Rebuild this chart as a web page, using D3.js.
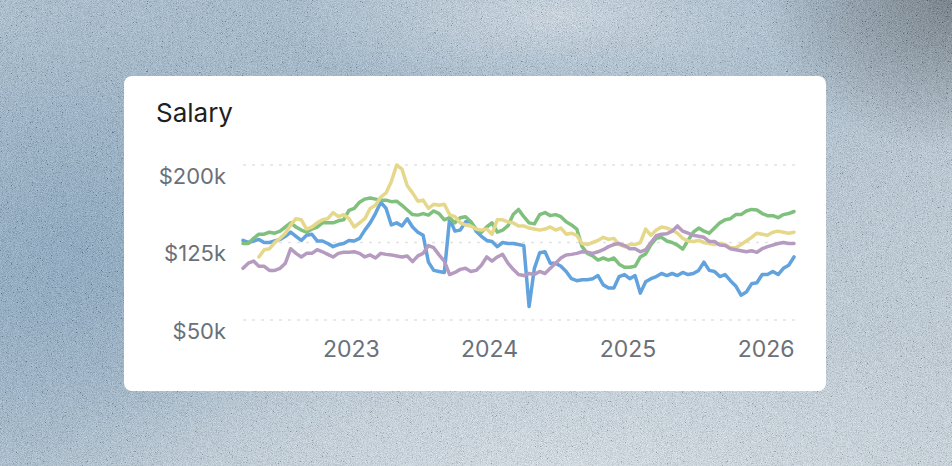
<!DOCTYPE html>
<html>
<head>
<meta charset="utf-8">
<script src="https://cdn.jsdelivr.net/npm/d3@7"></script>
<style>
  html, body { margin: 0; padding: 0; }
  body { width: 952px; height: 466px; overflow: hidden; }
  svg { display: block; }
</style>
</head>
<body>
<div id="vis"></div>
<script>
const FRAME_WIDTH = 952;
const FRAME_HEIGHT = 466;
const CARD = {x: 124, y: 76, w: 702, h: 315};
const PLOT = {left: 243, right: 794, top: 165, bottom: 320};

// data: one value every two weeks, starting late March 2022
const START_DATE = new Date(2022, 2, 22);
const STEP_DAYS = 14;

const BLUE_SERIES = [
  127, 125, 126.5, 128, 125, 125, 126.5, 128, 131, 135, 131, 127, 132, 133, 126.5, 126.5, 124, 121, 123, 124, 127, 126.5, 129, 137, 144, 153, 164,
  158, 142, 144, 141, 148, 140, 135, 132, 106, 98, 97, 96, 148, 136, 137, 145, 145, 136, 131, 127, 126, 121, 125, 124, 124, 123,
  122, 63, 100, 115, 116, 105, 105, 102, 97, 90, 88, 89, 89, 90, 93, 84, 81, 81, 92, 94, 90, 93, 76, 87, 90, 92, 95,
  93, 95, 93, 96, 94, 95, 98, 106, 98, 97, 92, 94, 88, 83, 74, 77, 85, 86, 94, 94, 97, 94, 100, 103, 111
];
const GREEN_SERIES = [
  124, 124, 129, 133, 133, 135, 134, 136, 140, 144, 140, 137, 135, 138, 140, 144, 144, 144, 146, 147, 156, 158, 164, 167, 168, 167, 166,
  166, 164.5, 165, 161, 156.5, 152, 151.5, 153, 151.5, 155.5, 153, 147, 149, 144, 149, 150, 145, 138, 135, 140, 144, 135, 137, 141, 152, 157,
  150, 144, 143, 152, 154, 151, 152, 150, 145, 142, 138, 121, 114.5, 112, 108, 110, 108, 110, 104, 101, 101, 102, 111, 114, 123, 129, 130,
  126.5, 125, 122.5, 118.5, 127, 135, 139, 136, 134, 139, 144, 147, 148, 152, 152, 155.5, 157, 156.5, 153, 151, 151, 149, 152, 153, 155
];
const YELLOW_SERIES = [
  null, null, null, 111, 118, 119, 125, 129, 134, 142, 148, 147, 138, 140, 144, 147, 148, 154, 150, 152, 148, 140, 144, 148, 158, 161, 169,
  173, 184, 200, 196, 180, 173, 165, 166, 158, 162, 161, 162, 152, 150, 144, 142, 141, 138, 137, 138, 133, 147, 147, 145, 144, 141,
  141, 139, 138, 137, 138, 140, 137, 139, 133, 134, 132, 124, 123, 125, 127, 130, 128, 129, 123, 121, 123, 123, 125, 138, 132, 137, 140,
  139, 137, 134, 129, 126.5, 126, 127, 125, 124, 123, 124, 123, 120, 120, 123, 126.5, 130, 134, 133, 132, 135, 136, 135, 134, 135
];
const PURPLE_SERIES = [
  100, 105, 107, 102, 102, 98, 98, 100, 105, 119, 114.5, 111, 114.5, 114.5, 118, 116, 113.5, 111, 114.5, 115.5, 115.5, 116, 114.5, 111, 113, 110, 114.5,
  113.5, 113, 112, 111, 112, 106.5, 112, 114.5, 122, 120, 113, 107, 94, 96, 99, 100, 97, 98, 103, 111, 107, 111, 113.5, 105, 99, 94,
  93, 95, 94, 97, 95, 100, 105, 110, 113, 113.5, 114.5, 116, 115.5, 114.5, 116, 118, 121, 123, 124, 122, 119, 119, 116, 118, 125, 131.5, 133,
  133.5, 136, 141, 136, 134, 132, 131, 130, 126, 126, 122.5, 122, 119, 118, 117, 116, 117, 115.5, 119, 121, 122.5, 124, 125, 124, 124
];

const SERIES_COLORS = ["#62a2dd", "#7fc07d", "#e6d88a", "#b59bc0"];
const Y_TICKS = [50, 125, 200];
const YEAR_TICKS = [2023, 2024, 2025, 2026];

const DATES = BLUE_SERIES.map((d, i) => d3.timeDay.offset(START_DATE, i * STEP_DAYS));
const ALL_SERIES = [BLUE_SERIES, GREEN_SERIES, YELLOW_SERIES, PURPLE_SERIES];

const FONT = "Inter, 'Liberation Sans', sans-serif";

const FRAME = d3.select("#vis")
                .append("svg")
                  .attr("width", FRAME_WIDTH)
                  .attr("height", FRAME_HEIGHT);

// background texture
const DEFS = FRAME.append("defs");

const BG_GRAD = DEFS.append("linearGradient")
    .attr("id", "bgGrad")
    .attr("x1", 0).attr("y1", 0).attr("x2", 1).attr("y2", 1);
[["0", "#a0b9cd"], ["0.35", "#91aec7"], ["0.65", "#b3c6d5"], ["1", "#c2d0db"]].forEach((s) => {
  BG_GRAD.append("stop").attr("offset", s[0]).attr("stop-color", s[1]);
});

function radial(id, color, op) {
  const g = DEFS.append("radialGradient").attr("id", id);
  g.append("stop").attr("offset", "0").attr("stop-color", color).attr("stop-opacity", op);
  g.append("stop").attr("offset", "1").attr("stop-color", color).attr("stop-opacity", 0);
}
radial("darkCorner", "#55616a", 0.9);
radial("lightBand", "#dfe8ef", 0.7);
radial("blueLeft", "#7399b9", 0.75);

const NOISE = DEFS.append("filter")
    .attr("id", "noise")
    .attr("x", 0).attr("y", 0).attr("width", "100%").attr("height", "100%");
NOISE.append("feTurbulence")
    .attr("type", "fractalNoise")
    .attr("baseFrequency", 1.2)
    .attr("numOctaves", 2)
    .attr("seed", 7);
NOISE.append("feColorMatrix")
    .attr("type", "matrix")
    .attr("values", "0.33 0.33 0.33 0 0  0.33 0.33 0.33 0 0  0.33 0.33 0.33 0 0  0 0 0 0 1");
const CT = NOISE.append("feComponentTransfer");
["feFuncR", "feFuncG", "feFuncB"].forEach((f) => {
  CT.append(f).attr("type", "linear").attr("slope", 3).attr("intercept", -0.9);
});
CT.append("feFuncA").attr("type", "linear").attr("slope", 0.3);

FRAME.append("rect")
    .attr("width", FRAME_WIDTH).attr("height", FRAME_HEIGHT)
    .attr("fill", "url(#bgGrad)");
FRAME.append("ellipse")
    .attr("cx", 70).attr("cy", 250).attr("rx", 280).attr("ry", 230)
    .attr("fill", "url(#blueLeft)");
FRAME.append("ellipse")
    .attr("cx", 560).attr("cy", 470).attr("rx", 520).attr("ry", 160)
    .attr("fill", "url(#lightBand)");
FRAME.append("ellipse")
    .attr("cx", 560).attr("cy", 15).attr("rx", 280).attr("ry", 90)
    .attr("fill", "url(#lightBand)");
FRAME.append("ellipse")
    .attr("cx", 952).attr("cy", 0).attr("rx", 190).attr("ry", 150)
    .attr("fill", "url(#darkCorner)");
FRAME.append("rect")
    .attr("width", FRAME_WIDTH).attr("height", FRAME_HEIGHT)
    .attr("filter", "url(#noise)");

// card
FRAME.append("rect")
    .attr("x", CARD.x).attr("y", CARD.y)
    .attr("width", CARD.w).attr("height", CARD.h)
    .attr("rx", 8)
    .attr("fill", "#ffffff");

FRAME.append("text")
    .attr("x", 156).attr("y", 122)
    .attr("font-family", FONT)
    .attr("font-size", "26px")
    .attr("fill", "#1d1f23")
    .text("Salary");

const X_SCALE = d3.scaleTime()
    .domain([DATES[0], DATES[DATES.length - 1]])
    .range([PLOT.left, PLOT.right]);

const Y_SCALE = d3.scaleLinear()
    .domain([50, 200])
    .range([PLOT.bottom, PLOT.top]);

// dashed gridlines
FRAME.append("g")
  .selectAll("line")
  .data(Y_TICKS)
  .enter()
  .append("line")
    .attr("x1", PLOT.left)
    .attr("x2", PLOT.right + 1)
    .attr("y1", (d) => Y_SCALE(d))
    .attr("y2", (d) => Y_SCALE(d))
    .attr("stroke", "#e2e2e2")
    .attr("stroke-width", 1.5)
    .attr("stroke-dasharray", "3 6");

// y axis
const Y_AXIS = FRAME.append("g")
    .attr("transform", "translate(226,0)")
    .call(d3.axisLeft(Y_SCALE).tickValues(Y_TICKS).tickSize(0).tickPadding(0)
            .tickFormat((d) => "$" + d + "k"));
Y_AXIS.select(".domain").remove();
Y_AXIS.selectAll("text")
    .attr("dy", "18px")
    .attr("font-family", FONT)
    .attr("font-size", "22px")
    .attr("fill", "#6b7079");

// x axis
const X_AXIS = FRAME.append("g")
    .attr("transform", "translate(0,357)")
    .call(d3.axisBottom(X_SCALE)
            .tickValues(YEAR_TICKS.map((y) => new Date(y, 0, 1)))
            .tickSize(0)
            .tickFormat(d3.timeFormat("%Y")));
X_AXIS.select(".domain").remove();
X_AXIS.selectAll("text")
    .attr("y", 0)
    .attr("dy", 0)
    .attr("font-family", FONT)
    .attr("font-size", "23px")
    .attr("fill", "#6b7079");

// lines
const LINE = d3.line()
    .defined((d) => d != null)
    .x((d, i) => X_SCALE(DATES[i]))
    .y((d) => Y_SCALE(d));

FRAME.append("g")
  .selectAll("path")
  .data(ALL_SERIES)
  .enter()
  .append("path")
    .attr("d", (d) => LINE(d))
    .attr("fill", "none")
    .attr("stroke", (d, i) => SERIES_COLORS[i])
    .attr("stroke-width", 3.5)
    .attr("stroke-linejoin", "round")
    .attr("stroke-linecap", "round");
</script>
</body>
</html>
